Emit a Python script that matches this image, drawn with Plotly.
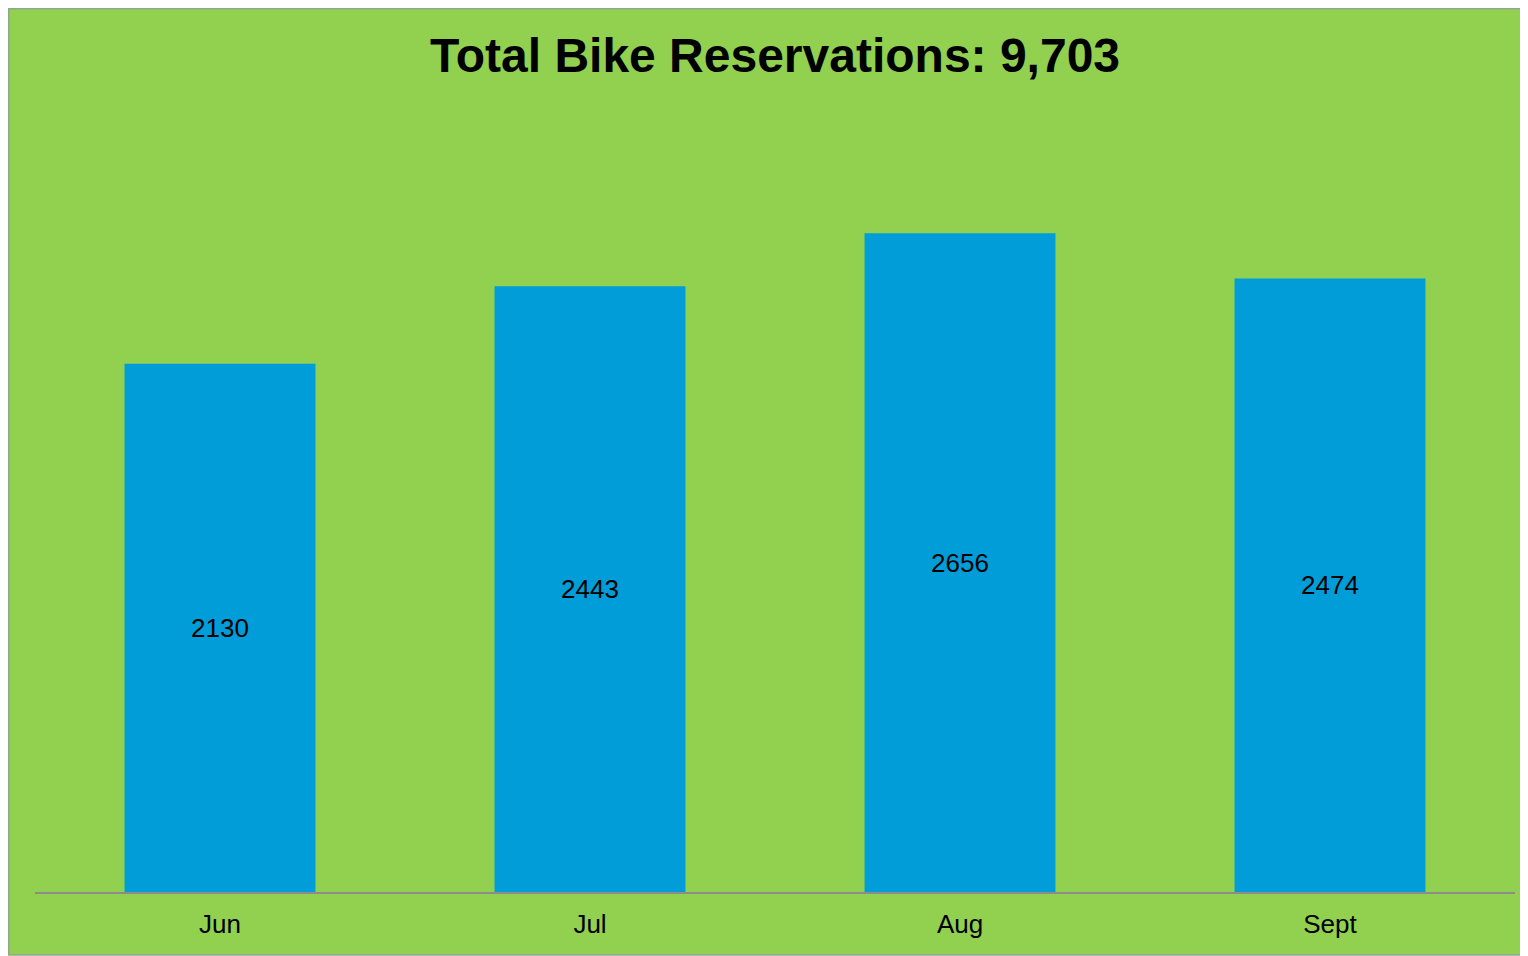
import plotly.graph_objects as go

months = ["Jun", "Jul", "Aug", "Sept"]
reservations = [2130, 2443, 2656, 2474]
title_text = "Total Bike Reservations: 9,703"

# The page body has an 8px default margin; lay out in figure pixels
OFF = 8
W, H = 1528 - OFF, 956 - OFF
L, R, T, B = 35 - OFF, 13, 148 - OFF, 64
pw, ph = W - L - R, H - T - B

def px_x(p):
    return (p - OFF - L) / pw

def px_y(p):
    return (H - B - (p - OFF)) / ph

FONT = "Arial, Liberation Sans, sans-serif"

fig = go.Figure(
    go.Bar(
        x=months,
        y=reservations,
        marker=dict(color="#009DD9", line=dict(width=0)),
        text=[str(v) for v in reservations],
        textposition="inside",
        insidetextanchor="middle",
        textfont=dict(family=FONT, size=26, color="#000000"),
        hoverinfo="x+y",
    )
)

fig.update_layout(
    width=W,
    height=H,
    margin=dict(l=L, r=R, t=T, b=B, pad=0),
    paper_bgcolor="white",
    plot_bgcolor="rgba(0,0,0,0)",
    bargap=0.484,
    showlegend=False,
    title=dict(
        text=f"<b>{title_text}</b>",
        x=0.5,
        xref="paper",
        xanchor="center",
        y=1 - (55 - OFF) / H,
        yref="container",
        yanchor="middle",
        font=dict(family=FONT, size=48, color="#000000"),
    ),
    xaxis=dict(
        showgrid=False,
        showline=True,
        linecolor="#8C8C8C",
        linewidth=1.5,
        ticks="",
        ticklabelstandoff=8,
        tickfont=dict(family=FONT, size=26, color="#000000"),
        zeroline=False,
    ),
    yaxis=dict(
        range=[0, 3000],
        showgrid=False,
        showticklabels=False,
        showline=False,
        zeroline=False,
        ticks="",
    ),
    shapes=[
        dict(
            type="rect",
            xref="paper",
            yref="paper",
            x0=px_x(8.75),
            x1=px_x(1527),
            y0=px_y(955),
            y1=px_y(8.75),
            fillcolor="#92D050",
            line=dict(color="#8FA88A", width=1.5),
            layer="below",
        )
    ],
)

fig.write_html("out.html")
